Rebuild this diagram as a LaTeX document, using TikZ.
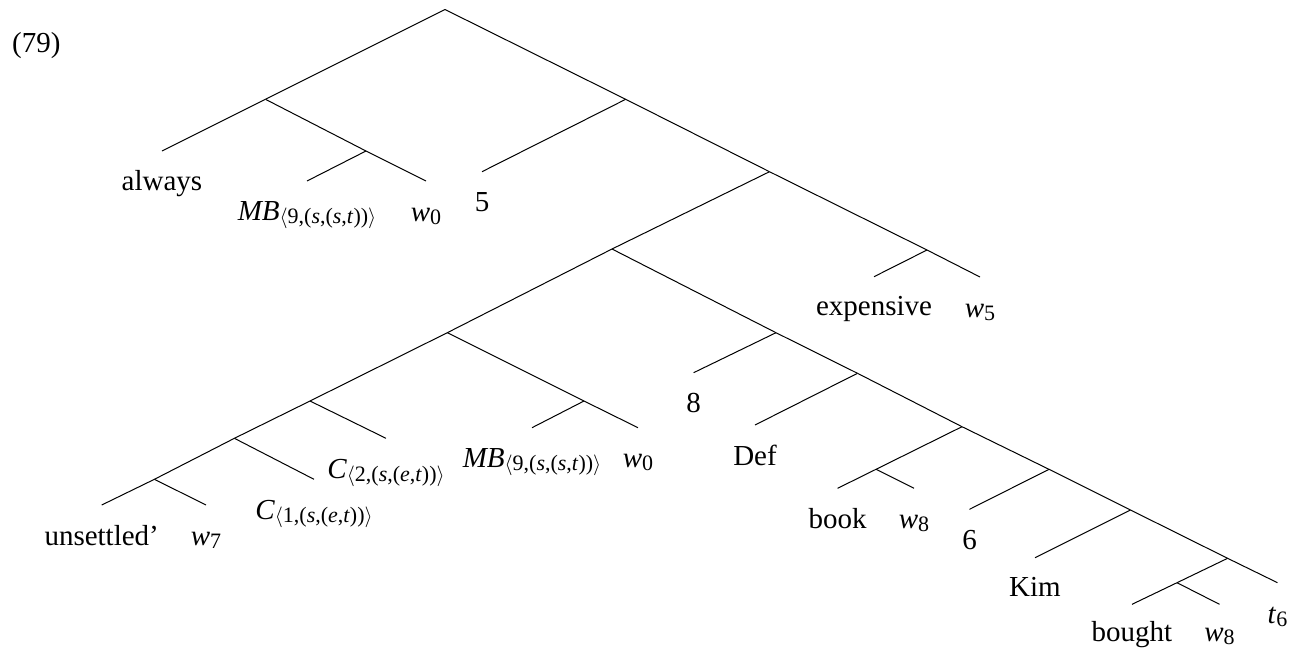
\documentclass[tikz,border=0pt]{standalone}
\usepackage{fontspec}
\setmainfont{Liberation Serif}
\newcommand{\lsb}[1]{\raisebox{-0.11em}{\fontsize{22}{22}\selectfont #1}}
\newcommand{\typ}[2]{$\langle$#1,(\textit{s},(\textit{#2},\textit{t}))$\rangle$}
\tikzset{
  br/.style={line width=1pt},
  lbl/.style={anchor=base, inner sep=0pt, font=\fontsize{29}{34}\selectfont},
}
\begin{document}
\begin{tikzpicture}[x=1pt,y=-1pt]
\useasboundingbox (0,0) rectangle (1298,649);
% internal nodes
\coordinate (R) at (445,9.5);
\coordinate (A) at (265.5,99.3);
\coordinate (A1) at (366,151);
\coordinate (B) at (625.7,99.3);
\coordinate (C) at (769.5,171.7);
\coordinate (E) at (927,250);
\coordinate (D) at (612,249);
\coordinate (H) at (447.3,332.7);
\coordinate (I) at (584,401);
\coordinate (J) at (310,401);
\coordinate (K) at (234.4,438.3);
\coordinate (L) at (154.4,479.3);
\coordinate (M) at (776,332.7);
\coordinate (N) at (857.5,373.3);
\coordinate (O) at (962,426.7);
\coordinate (P) at (876,469.3);
\coordinate (Q) at (1049,469.3);
\coordinate (S) at (1130.5,510);
\coordinate (T) at (1227.6,558.3);
\coordinate (U) at (1177,582.7);
% leaf ends
\coordinate (eAlways) at (162,151);
\coordinate (eMB) at (307,181);
\coordinate (eW0) at (426,181);
\coordinate (eFive) at (482,171.7);
\coordinate (eExp) at (874,276.7);
\coordinate (eW5) at (980,277);
\coordinate (eMBb) at (532,427.7);
\coordinate (eW0b) at (638,427.7);
\coordinate (eCtwo) at (386,438.3);
\coordinate (eCone) at (314,479.3);
\coordinate (eUns) at (101.7,505);
\coordinate (eW7) at (206,505);
\coordinate (eEight) at (693.6,372.7);
\coordinate (eDef) at (755,425);
\coordinate (eBook) at (837.6,488.3);
\coordinate (eW8) at (914,488.3);
\coordinate (eSix) at (969.5,509.3);
\coordinate (eKim) at (1035,557.7);
\coordinate (eBought) at (1132,604.3);
\coordinate (eW8b) at (1219.5,604.3);
\coordinate (eT6) at (1277.5,582.7);
% branches
\draw[br] (R) -- (A);
\draw[br] (R) -- (B);
\draw[br] (A) -- (eAlways);
\draw[br] (A) -- (A1);
\draw[br] (A1) -- (eMB);
\draw[br] (A1) -- (eW0);
\draw[br] (B) -- (eFive);
\draw[br] (B) -- (C);
\draw[br] (C) -- (D);
\draw[br] (C) -- (E);
\draw[br] (E) -- (eExp);
\draw[br] (E) -- (eW5);
\draw[br] (D) -- (H);
\draw[br] (D) -- (M);
\draw[br] (H) -- (J);
\draw[br] (H) -- (I);
\draw[br] (I) -- (eMBb);
\draw[br] (I) -- (eW0b);
\draw[br] (J) -- (K);
\draw[br] (J) -- (eCtwo);
\draw[br] (K) -- (L);
\draw[br] (K) -- (eCone);
\draw[br] (L) -- (eUns);
\draw[br] (L) -- (eW7);
\draw[br] (M) -- (eEight);
\draw[br] (M) -- (N);
\draw[br] (N) -- (eDef);
\draw[br] (N) -- (O);
\draw[br] (O) -- (P);
\draw[br] (O) -- (Q);
\draw[br] (P) -- (eBook);
\draw[br] (P) -- (eW8);
\draw[br] (Q) -- (eSix);
\draw[br] (Q) -- (S);
\draw[br] (S) -- (eKim);
\draw[br] (S) -- (T);
\draw[br] (T) -- (U);
\draw[br] (T) -- (eT6);
\draw[br] (U) -- (eBought);
\draw[br] (U) -- (eW8b);
% labels
\node[lbl, anchor=base west] (num) at (12,52) {(79)};
\node[lbl] (tAlways) at ([yshift=-39pt]eAlways) {always};
\node[lbl] (tMB) at ([yshift=-39pt]eMB) {\textit{MB\/}\lsb{\typ{9}{s}}};
\node[lbl] (tW0) at ([yshift=-40pt]eW0) {\textit{w}\lsb{0}};
\node[lbl] (tFive) at ([yshift=-40pt]eFive) {5};
\node[lbl] (tExp) at ([yshift=-39pt]eExp) {expensive};
\node[lbl] (tW5) at ([yshift=-40pt]eW5) {\textit{w}\lsb{5}};
\node[lbl] (tMBb) at ([yshift=-40pt]eMBb) {\textit{MB\/}\lsb{\typ{9}{s}}};
\node[lbl] (tW0b) at ([yshift=-40pt]eW0b) {\textit{w}\lsb{0}};
\node[lbl] (tCtwo) at ([yshift=-40pt]eCtwo) {\textit{C\/}\lsb{\typ{2}{e}}};
\node[lbl] (tCone) at ([yshift=-40pt]eCone) {\textit{C\/}\lsb{\typ{1}{e}}};
\node[lbl] (tUns) at ([yshift=-40pt]eUns) {unsettled'};
\node[lbl] (tW7) at ([yshift=-40pt]eW7) {\textit{w}\lsb{7}};
\node[lbl] (tEight) at ([yshift=-40pt]eEight) {8};
\node[lbl] (tDef) at ([yshift=-40pt]eDef) {Def};
\node[lbl] (tBook) at ([yshift=-40pt]eBook) {book};
\node[lbl] (tW8) at ([yshift=-40pt]eW8) {\textit{w}\lsb{8}};
\node[lbl] (tSix) at ([yshift=-40pt]eSix) {6};
\node[lbl] (tKim) at ([yshift=-39pt]eKim) {Kim};
\node[lbl] (tBought) at ([yshift=-37pt]eBought) {bought};
\node[lbl] (tW8b) at ([yshift=-37pt]eW8b) {\textit{w}\lsb{8}};
\node[lbl] (tT6) at ([yshift=-41pt]eT6) {\textit{t}\lsb{6}};
\end{tikzpicture}
\end{document}
